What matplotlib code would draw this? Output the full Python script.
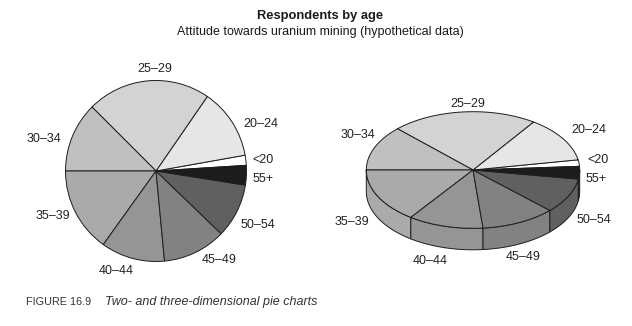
import numpy as np
import matplotlib
matplotlib.use("Agg")
import matplotlib.pyplot as plt
from matplotlib.patches import Polygon

# ---- data ----
categories = ["<20", "20–24", "25–29", "30–34", "35–39", "40–44", "45–49", "50–54", "55+"]
values = [1.8, 12.6, 22.1, 12.5, 15.1, 11.4, 11.3, 9.7, 3.5]
colors = ["#ffffff", "#e6e6e6", "#d3d3d5", "#c0c0c2", "#aaaaac",
          "#959597", "#828284", "#606062", "#1c1c1c"]

title = "Respondents by age"
subtitle = "Attitude towards uranium mining (hypothetical data)"
caption_num = "FIGURE 16.9"
caption_txt = "Two- and three-dimensional pie charts"

# ---- layout (pixel coordinates, y measured from top) ----
W, H = 632, 326
start_angle = 3.6
pie2d_center = (156, 171)
pie2d_radius = 90.5
pie3d_center = (473, 170)
pie3d_rx, pie3d_ry, pie3d_depth = 106.7, 58.3, 21.5

label2d_pos = [(263, 160), (261, 124), (155, 69), (44, 139), (53, 216),
               (116, 271), (219, 260), (258, 225), (263, 179)]
label3d_pos = [(598, 160), (589, 130), (468, 104), (358, 135), (352, 222),
               (430, 261), (523, 257), (594, 220), (596, 179)]

edge = "#1e1e1e"
lw = 0.7
label_fs = 9

fig = plt.figure(figsize=(W / 100, H / 100), dpi=100)
ax = fig.add_axes([0, 0, 1, 1])

def Y(y):
    return H - y

# ---- 2D pie ----
ax.pie(values, colors=colors, startangle=start_angle, counterclock=True,
       center=(pie2d_center[0], Y(pie2d_center[1])), radius=pie2d_radius,
       wedgeprops=dict(edgecolor=edge, linewidth=lw), frame=True)

for lab, (x, y) in zip(categories, label2d_pos):
    ax.text(x, Y(y), lab, ha="center", va="center", fontsize=label_fs,
            family="Liberation Sans", color="#222222")

# ---- 3D pie ----
vals = np.asarray(values, dtype=float)
bounds = start_angle + np.concatenate([[0], np.cumsum(vals)]) / vals.sum() * 360.0
cx, cy = pie3d_center[0], Y(pie3d_center[1])

def arc(a1, a2, dy=0.0):
    n = max(int(abs(a2 - a1) * 2) + 2, 3)
    t = np.radians(np.linspace(a1, a2, n))
    return np.column_stack([cx + pie3d_rx * np.cos(t), cy + pie3d_ry * np.sin(t) - dy])

# side walls (front half: 180..360 deg)
for i in range(len(vals)):
    a1, a2 = bounds[i], bounds[i + 1]
    for lo, hi in [(180, 360), (540, 720)]:
        s1, s2 = max(a1, lo), min(a2, hi)
        if s2 > s1:
            top = arc(s1, s2)
            bot = arc(s2, s1, pie3d_depth)
            ax.add_patch(Polygon(np.vstack([top, bot]), closed=True,
                                 facecolor=colors[i], edgecolor=edge, linewidth=lw,
                                 joinstyle="round"))

# top face
for i in range(len(vals)):
    pts = np.vstack([[cx, cy], arc(bounds[i], bounds[i + 1])])
    ax.add_patch(Polygon(pts, closed=True, facecolor=colors[i], edgecolor=edge,
                         linewidth=lw, joinstyle="round"))

for lab, (x, y) in zip(categories, label3d_pos):
    ax.text(x, Y(y), lab, ha="center", va="center", fontsize=label_fs,
            family="Liberation Sans", color="#222222")

# ---- titles & caption ----
ax.text(320, Y(16), title, ha="center", va="center", fontsize=9.3,
        fontweight="bold", family="Liberation Sans", color="#1a1a1a")
ax.text(320, Y(32), subtitle, ha="center", va="center", fontsize=9,
        family="Liberation Sans", color="#1a1a1a")
ax.text(26, Y(302), caption_num, ha="left", va="center", fontsize=7.8,
        family="Liberation Sans", color="#333333")
ax.text(105, Y(302), caption_txt, ha="left", va="center", fontsize=9,
        family="Liberation Sans", style="italic", color="#333333")

ax.set_xlim(0, W)
ax.set_ylim(0, H)
ax.set_aspect("auto")
ax.axis("off")

fig.savefig("out.png", dpi=100, facecolor="white")
